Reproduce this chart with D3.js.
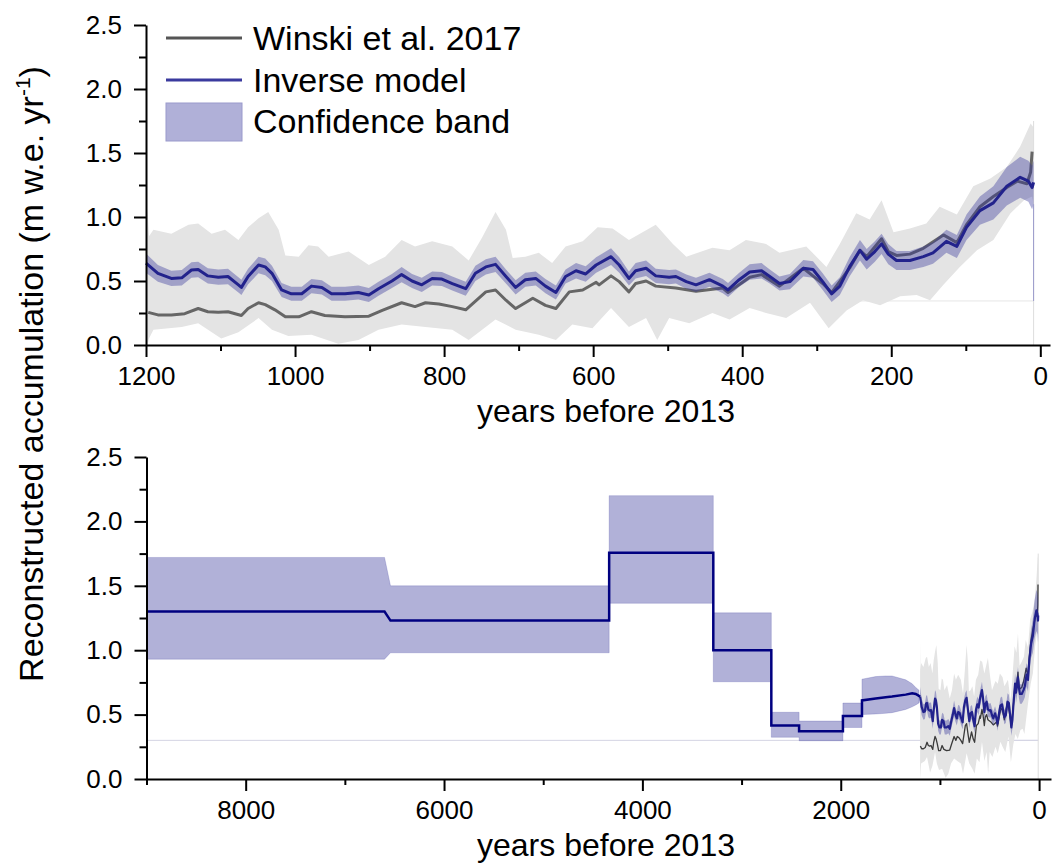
<!DOCTYPE html>
<html>
<head>
<meta charset="utf-8">
<script src="https://cdn.jsdelivr.net/npm/d3@7"></script>
<style>
  body { margin: 0; background: #fff; }
  text { font-family: 'Liberation Sans', Arial, sans-serif; }
</style>
</head>
<body>
<div id="chart"></div>
<script>
// ---- Data ----

// Inverse model, last 1200 years (years before 2013)
const blueYrs = [1200,1184,1166,1152,1139,1130,1117,1103,1090,1076,
  1072,1063,1049,1040,1031,1018,1005,991,978,964,
  951,933,915,901,888,870,857,843,830,816,
  803,789,771,758,744,731,717,704,691,677,
  664,650,637,623,610,596,576,565,552,543,
  529,516,498,489,475,462,444,426,419,404,
  390,374,363,350,336,318,305,292,280,269,
  256,242,233,222,213,204,193,175,157,144,
  126,112,99,81,63,45,27,16,11,9]
const blueVals = [0.64,0.56,0.52,0.525,0.586,0.59,0.54,0.53,0.535,0.47,
  0.45,0.535,0.625,0.61,0.56,0.43,0.40,0.40,0.46,0.45,
  0.40,0.40,0.41,0.39,0.44,0.50,0.55,0.50,0.47,0.52,
  0.515,0.48,0.44,0.56,0.61,0.63,0.535,0.45,0.51,0.52,
  0.46,0.41,0.535,0.58,0.555,0.625,0.69,0.625,0.52,0.58,
  0.60,0.54,0.53,0.535,0.495,0.47,0.51,0.46,0.43,0.51,
  0.57,0.58,0.535,0.48,0.495,0.60,0.59,0.495,0.40,0.46,
  0.61,0.74,0.67,0.73,0.79,0.71,0.66,0.66,0.69,0.72,
  0.81,0.77,0.92,1.05,1.11,1.24,1.31,1.28,1.23,1.27]
// half width of the confidence band at the same years
const blueHalf = [0.075,0.065,0.06,0.06,0.06,0.06,0.06,0.06,0.06,0.06,
  0.06,0.06,0.065,0.065,0.06,0.055,0.055,0.055,0.055,0.055,
  0.055,0.055,0.055,0.055,0.055,0.055,0.06,0.055,0.055,0.055,
  0.055,0.055,0.055,0.06,0.06,0.06,0.055,0.055,0.055,0.055,
  0.055,0.055,0.055,0.06,0.06,0.06,0.065,0.06,0.055,0.06,
  0.06,0.055,0.055,0.055,0.055,0.055,0.055,0.055,0.055,0.055,
  0.06,0.06,0.055,0.055,0.06,0.065,0.065,0.065,0.065,0.07,
  0.075,0.08,0.08,0.08,0.08,0.08,0.075,0.075,0.08,0.085,
  0.09,0.09,0.1,0.11,0.13,0.15,0.16,0.16,0.17,0.17]

// Winski et al. 2017
const greyYrs = [1197,1184,1166,1148,1130,1117,1103,1090,1072,1063,
  1049,1040,1027,1013,995,978,960,933,901,883,
  857,839,825,807,789,771,744,731,717,704,
  681,664,650,632,614,596,592,576,565,552,
  543,529,516,489,462,426,419,390,374,350,
  318,292,280,256,242,233,213,204,193,175,
  157,130,112,99,81,63,45,31,18,13,11]
const greyVals = [0.255,0.235,0.235,0.245,0.285,0.26,0.255,0.26,0.23,0.285,
  0.33,0.315,0.275,0.22,0.22,0.26,0.23,0.22,0.225,0.27,
  0.33,0.30,0.33,0.32,0.30,0.275,0.415,0.43,0.35,0.285,
  0.365,0.31,0.285,0.415,0.43,0.49,0.47,0.54,0.495,0.415,
  0.48,0.50,0.46,0.445,0.42,0.445,0.41,0.53,0.55,0.46,
  0.60,0.48,0.41,0.60,0.74,0.69,0.83,0.73,0.70,0.71,
  0.755,0.86,0.80,0.94,1.08,1.16,1.23,1.28,1.26,1.35,1.51]

// wide grey band (upper / lower edge)
const gbHiYrs = [1200,1198,1196,1190,1166,1143,1130,1112,1094,1076,
  1063,1049,1036,1022,1013,995,982,969,955,928,
  901,879,857,839,816,789,767,749,731,717,
  708,691,673,655,637,614,594,574,552,516,
  493,475,440,417,395,368,350,314,287,269,
  247,229,213,197,175,153,135,112,90,67,
  45,27,13,9]
const gbHiVals = [0.80,1.07,0.85,0.90,0.87,0.94,0.95,0.87,0.90,0.82,
  0.92,0.99,1.04,0.90,0.70,0.69,0.78,0.77,0.69,0.73,
  0.625,0.69,0.82,0.77,0.81,0.77,0.66,0.84,1.04,0.90,
  0.68,0.69,0.72,0.64,0.77,0.81,0.92,0.91,0.82,0.94,
  0.79,0.69,0.76,0.74,0.82,0.79,0.72,0.77,0.61,0.79,
  1.03,0.98,1.13,0.88,0.91,0.95,1.08,1.02,1.24,1.30,
  1.39,1.55,1.73,1.70]
const gbLoYrs = [1200,1198,1196,1190,1152,1130,1099,1076,1049,1031,
  1009,978,942,915,888,857,825,789,767,731,
  704,673,650,628,601,576,552,529,514,498,
  471,440,417,390,368,341,309,284,260,238,
  215,188,166,148,130,108,85,63,40,22,11,9]
const gbLoVals = [0.04,0.0,0.05,0.12,0.14,0.17,0.05,0.10,0.21,0.12,
  0.07,0.08,0.01,0.04,0.12,0.16,0.14,0.12,0.04,0.20,
  0.12,0.08,0.04,0.16,0.13,0.29,0.14,0.21,0.04,0.21,
  0.17,0.25,0.20,0.29,0.25,0.21,0.33,0.13,0.27,0.35,
  0.31,0.38,0.39,0.35,0.47,0.61,0.74,0.82,1.03,1.13,1.16,1.10]

// Inverse model, Holocene steps (bottom panel, before 1200 yr)
const stepYrs = [9000,6600,6540,4335,4335,3285,3285,2700,2700,2420,2420,
  1978,1978,1786,1786,1648,1547,1483,1345,1280,1244,1211]
const stepMid = [1.30,1.30,1.23,1.23,1.757,1.757,1.00,1.00,0.415,0.415,0.37,
  0.37,0.49,0.49,0.61,0.625,0.635,0.64,0.655,0.665,0.66,0.645]
const stepHi = [1.72,1.72,1.50,1.50,2.20,2.20,1.29,1.29,0.518,0.518,0.45,
  0.45,0.59,0.59,0.775,0.795,0.80,0.80,0.77,0.74,0.71,0.69]
const stepLo = [0.93,0.93,0.98,0.98,1.364,1.364,0.755,0.755,0.324,0.324,0.297,
  0.297,0.40,0.40,0.50,0.505,0.51,0.515,0.54,0.56,0.575,0.59]

// Ticks
const yTicks = [0, 0.5, 1.0, 1.5, 2.0, 2.5]
const yMinor = [0.25, 0.75, 1.25, 1.75, 2.25]
const topXTicks = [1200, 1000, 800, 600, 400, 200, 0]
const topXMinor = [1100, 900, 700, 500, 300, 100]
const botXTicks = [8000, 6000, 4000, 2000, 0]
const botXMinor = [9000, 7000, 5000, 3000, 1000]

const legendLabels = ['Winski et al. 2017', 'Inverse model', 'Confidence band']

// helpers
const zip = (xs, ys) => xs.map((x, i) => [x, ys[i]])

function draw() {
  const dimensions = { width: 1054, height: 863 }
  const font = "'Liberation Sans', Arial, sans-serif"

  const svg = d3
    .select('#chart')
    .append('svg')
    .attr('width', dimensions.width)
    .attr('height', dimensions.height)

  const colors = {
    greyBand: '#e4e4e4',
    winski: '#666666',
    blueBand: '#333399',
    blueLine: '#22228c',
    stepLine: '#000080',
  }

  // Scales
  const xTop = d3.scaleLinear().domain([1200, -13]).range([146, 1050])
  const yTop = d3.scaleLinear().domain([0, 2.5]).range([345, 25])
  const xBot = d3.scaleLinear().domain([9000, -120]).range([146.5, 1051])
  const yBot = d3.scaleLinear().domain([0, 2.5]).range([779, 457])

  // draws the last-1200-yr series into a panel
  function recent(g, x, y, opts) {
    // faint baseline
    g.append('line')
      .attr('x1', x(1200)).attr('x2', x(9))
      .attr('y1', y(opts.base)).attr('y2', y(opts.base))
      .attr('stroke', opts.baseColor).attr('stroke-width', 1)

    // grey band polygon
    const hi = zip(gbHiYrs, gbHiVals)
    const lo = zip(gbLoYrs, gbLoVals).reverse()
    const poly = d3.line().x((d) => x(d[0])).y((d) => y(d[1]))
    g.append('path')
      .attr('d', poly(hi.concat(lo)) + 'Z')
      .attr('fill', colors.greyBand)

    g.append('line')
      .attr('x1', x(9)).attr('x2', x(9))
      .attr('y1', y(0)).attr('y2', y(1.75))
      .attr('stroke', '#dddddd').attr('stroke-width', 1)

    // Winski line
    g.append('path')
      .datum(zip(greyYrs, greyVals))
      .attr('d', poly)
      .attr('fill', 'none')
      .attr('stroke', opts.winskiColor)
      .attr('stroke-width', opts.winskiWidth)
      .attr('stroke-linejoin', 'round')

    // blue confidence band
    const blue = blueYrs.map((yr, i) => ({ yr, v: blueVals[i], h: blueHalf[i] }))
    const area = d3
      .area()
      .x((d) => x(d.yr))
      .y0((d) => y(d.v - d.h))
      .y1((d) => y(d.v + d.h))
    g.append('path')
      .datum(blue)
      .attr('d', area)
      .attr('fill', colors.blueBand)
      .attr('fill-opacity', 0.385)

    if (opts.endLine) {
      g.append('line')
        .attr('x1', x(9)).attr('x2', x(9))
        .attr('y1', y(opts.base)).attr('y2', y(1.27 - 0.17))
        .attr('stroke', '#9a9acc').attr('stroke-width', 1)
    }

    // inverse model line
    g.append('path')
      .datum(blue)
      .attr('d', d3.line().x((d) => x(d.yr)).y((d) => y(d.v)))
      .attr('fill', 'none')
      .attr('stroke', colors.blueLine)
      .attr('stroke-width', opts.blueWidth)
      .attr('stroke-linejoin', 'round')
  }

  // Axes
  function axes(x, y, xMajor, xMinor) {
    const g = svg.append('g').attr('font-family', font)

    const yAxis = g.append('g')
      .attr('transform', `translate(${x.range()[0]},0)`)
      .call(d3.axisLeft(y).tickValues(yTicks).tickSize(12).tickSizeOuter(0)
        .tickPadding(12).tickFormat(d3.format('.1f')))
    yAxis.attr('font-size', 26)
    g.append('g')
      .attr('transform', `translate(${x.range()[0]},0)`)
      .call(d3.axisLeft(y).tickValues(yMinor).tickSize(7).tickSizeOuter(0).tickFormat(''))
      .select('.domain').remove()

    const xAxis = g.append('g')
      .attr('transform', `translate(0,${y(0)})`)
      .call(d3.axisBottom(x).tickValues(xMajor).tickSize(12).tickSizeOuter(0)
        .tickPadding(10).tickFormat(d3.format('d')))
    xAxis.attr('font-size', 26)
    g.append('g')
      .attr('transform', `translate(0,${y(0)})`)
      .call(d3.axisBottom(x).tickValues(xMinor).tickSize(6).tickSizeOuter(0).tickFormat(''))
      .select('.domain').remove()

    g.selectAll('.domain').attr('stroke', '#000').attr('stroke-width', 2)
    g.selectAll('.tick line').attr('stroke', '#000').attr('stroke-width', 2)
    g.selectAll('.tick text').attr('fill', '#000')

    g.append('text')
      .attr('x', 606)
      .attr('y', y(0) + 77)
      .attr('text-anchor', 'middle')
      .attr('font-size', 32)
      .text('years before 2013')
  }

  // ---- Top panel ----
  const top = svg.append('g')
  recent(top, xTop, yTop, {
    base: 0.344, baseColor: '#e6e6e6', winskiColor: colors.winski,
    winskiWidth: 3, blueWidth: 3, endLine: true,
  })
  axes(xTop, yTop, topXTicks, topXMinor)

  // ---- Bottom panel ----
  const bot = svg.append('g')
  bot.append('line')
    .attr('x1', xBot(9000)).attr('x2', xBot(9))
    .attr('y1', yBot(0.3)).attr('y2', yBot(0.3))
    .attr('stroke', '#d4d4e4').attr('stroke-width', 1)

  const steps = stepYrs.map((yr, i) => ({ yr, v: stepMid[i], lo: stepLo[i], hi: stepHi[i] }))
  bot.append('path')
    .datum(steps)
    .attr('d', d3.area().x((d) => xBot(d.yr)).y0((d) => yBot(d.lo)).y1((d) => yBot(d.hi)))
    .attr('fill', colors.blueBand)
    .attr('fill-opacity', 0.385)
    .attr('stroke', colors.blueBand)
    .attr('stroke-opacity', 0.2)
    .attr('stroke-width', 1)

  recent(bot, xBot, yBot, {
    base: 0.3, baseColor: '#d4d4e4', winskiColor: '#3a3a3a',
    winskiWidth: 1.3, blueWidth: 2.2, endLine: false,
  })

  bot.append('path')
    .datum(steps.concat([{ yr: blueYrs[0], v: blueVals[0] }]))
    .attr('d', d3.line().x((d) => xBot(d.yr)).y((d) => yBot(d.v)))
    .attr('fill', 'none')
    .attr('stroke', colors.stepLine)
    .attr('stroke-width', 2.5)

  axes(xBot, yBot, botXTicks, botXMinor)

  // ---- Y title ----
  const yTitle = svg.append('text')
    .attr('transform', 'translate(43,374) rotate(-90)')
    .attr('text-anchor', 'middle')
    .attr('font-size', 34)
  yTitle.append('tspan').text('Reconstructed accumulation (m w.e. yr')
  yTitle.append('tspan').attr('font-size', 21).attr('dy', -13).text('-1')
  yTitle.append('tspan').attr('dy', 13).text(')')

  // ---- Legend ----
  const legend = svg.append('g').attr('font-size', 34)
  legend.append('line')
    .attr('x1', 166).attr('x2', 242).attr('y1', 38).attr('y2', 38)
    .attr('stroke', '#555').attr('stroke-width', 3)
  legend.append('line')
    .attr('x1', 166).attr('x2', 242).attr('y1', 80).attr('y2', 80)
    .attr('stroke', '#3a3a9e').attr('stroke-width', 3)
  legend.append('rect')
    .attr('x', 166).attr('y', 103).attr('width', 76).attr('height', 38)
    .attr('fill', '#b0b0d8').attr('stroke', '#9a9acc').attr('stroke-width', 1)
  legend.selectAll('text.lbl')
    .data(legendLabels)
    .join('text')
    .attr('class', 'lbl')
    .attr('x', 253)
    .attr('y', (d, i) => [50, 92, 133][i])
    .text((d) => d)
}

draw()
</script>
</body>
</html>
